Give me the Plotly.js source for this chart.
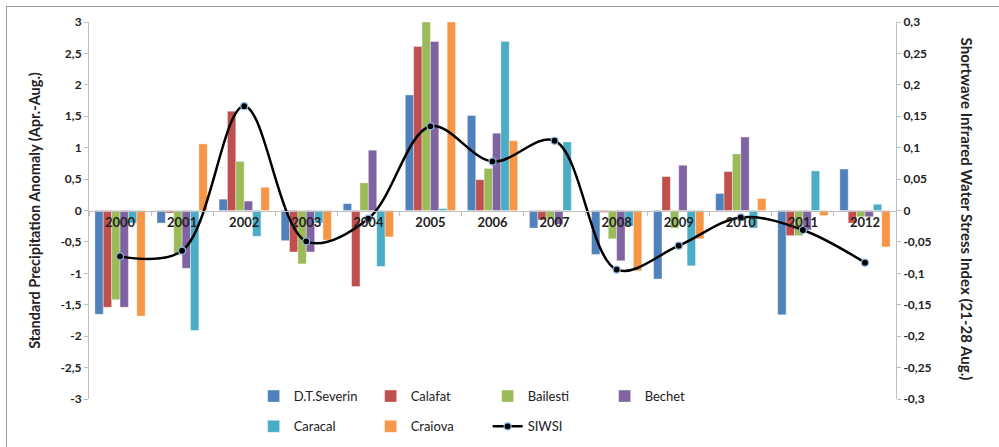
<!DOCTYPE html>
<html><head><meta charset="utf-8">
<script src="https://cdn.plot.ly/plotly-3.0.1.min.js"></script>
<style>
html,body{margin:0;padding:0;background:#fff;overflow:hidden}
#frame{position:absolute;left:6px;top:6px;width:1000px;height:450px;border:1px solid #9a9a9a;box-sizing:border-box}
#chart{position:absolute;left:0;top:0;width:999px;height:447px}
</style></head>
<body>
<div id="frame"></div>
<div id="chart"></div>
<script>
const years = ["2000","2001","2002","2003","2004","2005","2006","2007","2008","2009","2010","2011","2012"];
const dtSeverin = [-1.65,-0.20,0.18,-0.48,0.11,1.84,1.51,-0.28,-0.70,-1.09,0.27,-1.66,0.66];
const calafat   = [-1.54,-0.04,1.58,-0.66,-1.21,2.61,0.49,-0.15,-0.03,0.54,0.62,-0.40,-0.20];
const bailesti  = [-1.42,-0.70,0.78,-0.85,0.44,3.00,0.67,-0.13,-0.45,-0.28,0.90,-0.40,-0.10];
const bechet    = [-1.54,-0.92,0.15,-0.66,0.96,2.69,1.23,-0.22,-0.80,0.72,1.17,-0.31,-0.10];
const caracal   = [-0.20,-1.91,-0.41,-0.20,-0.89,0.03,2.69,1.09,-0.25,-0.88,-0.28,0.63,0.10];
const craiova   = [-1.68,1.06,0.37,-0.47,-0.42,3.00,1.11,0.00,-0.96,-0.45,0.19,-0.08,-0.58];
const siwsi     = [-0.073,-0.064,0.166,-0.049,-0.013,0.134,0.078,0.111,-0.094,-0.056,-0.011,-0.031,-0.083];
const leftTicks = [-3,-2.5,-2,-1.5,-1,-0.5,0,0.5,1,1.5,2,2.5,3];
const rightTicks = [-0.3,-0.25,-0.2,-0.15,-0.1,-0.05,0,0.05,0.1,0.15,0.2,0.25,0.3];

const FONT = 'Lato, "Open Sans", sans-serif';
const barSeries = [
  ["D.T.Severin", dtSeverin, "#4F81BD", "legend"],
  ["Calafat", calafat, "#C0504D", "legend"],
  ["Bailesti", bailesti, "#9BBB59", "legend"],
  ["Bechet", bechet, "#8064A2", "legend"],
  ["Caracal", caracal, "#4BACC6", "legend2"],
  ["Craiova", craiova, "#F79646", "legend2"]
];
const traces = barSeries.map(s => ({
  type: "bar", name: s[0], x: years, y: s[1], legend: s[3],
  marker: {color: s[2], line: {color: "rgba(255,255,255,0.6)", width: 0.6}},
  hoverinfo: "skip"
}));
traces.push({
  type: "scatter", mode: "lines+markers", name: "SIWSI", x: years, y: siwsi,
  yaxis: "y2", legend: "legend2",
  line: {color: "#000", width: 2.5, shape: "spline", smoothing: 1},
  marker: {color: "#000", size: 7, line: {color: "#8FB4E3", width: 1.2}}
});

const legendBase = {
  orientation: "h", x: 0.204, xanchor: "left", yanchor: "middle",
  entrywidth: 72, entrywidthmode: "pixels", bgcolor: "rgba(255,255,255,0)",
  font: {family: FONT, size: 13, color: "#222"}, itemwidth: 30
};

const layout = {
  width: 999, height: 447,
  margin: {l: 89, r: 103, t: 22, b: 48, autoexpand: false},
  paper_bgcolor: "rgba(0,0,0,0)", plot_bgcolor: "rgba(0,0,0,0)",
  separators: ", ",
  font: {family: FONT, size: 12, color: "#222"},
  barmode: "group", bargap: 0.19, bargroupgap: 0,
  showlegend: true,
  xaxis: {
    type: "category", categoryorder: "array", categoryarray: years,
    range: [-0.5, 12.5], anchor: "free", position: 0.5,
    showline: true, linecolor: "#BFBFBF", linewidth: 1,
    ticks: "outside", ticklen: 4, tickcolor: "#BFBFBF", tickson: "boundaries",
    tickfont: {family: FONT, size: 13, color: "#222", weight: "bold"},
    showgrid: false, zeroline: false, fixedrange: true
  },
  yaxis: {
    range: [-3, 3], tickvals: leftTicks, ticktext: leftTicks.map(v => String(v).replace(".", ",")),
    showline: true, linecolor: "#BFBFBF", ticks: "outside", ticklen: 4, tickcolor: "#BFBFBF",
    tickfont: {family: FONT, size: 12, color: "#222", weight: "bold"},
    showgrid: false, zeroline: false,
    title: {text: "Standard Precipitation Anomaly (Apr.-Aug.)", standoff: 16,
            font: {family: FONT, size: 14.5, color: "#222", weight: "bold"}}
  },
  yaxis2: {
    overlaying: "y", side: "right", range: [-0.3, 0.3],
    tickvals: rightTicks, ticktext: rightTicks.map(v => String(v).replace(".", ",")),
    showline: true, linecolor: "#BFBFBF", ticks: "outside", ticklen: 4, tickcolor: "#BFBFBF",
    tickfont: {family: FONT, size: 12, color: "#222", weight: "bold"},
    showgrid: false, zeroline: false
  },
  legend: Object.assign({}, legendBase, {y: 0.0075}),
  legend2: Object.assign({}, legendBase, {y: -0.0725}),
  annotations: [{
    xref: "paper", yref: "paper", x: 1.088, y: 0.505, xanchor: "center", yanchor: "middle",
    showarrow: false, textangle: 90,
    text: "Shortwave Infrared Water Stress Index (21-28 Aug.)",
    font: {family: FONT, size: 15, color: "#222", weight: "bold"}
  }]
};
Plotly.newPlot("chart", traces, layout, {displayModeBar: false, staticPlot: true});
</script>
</body></html>
